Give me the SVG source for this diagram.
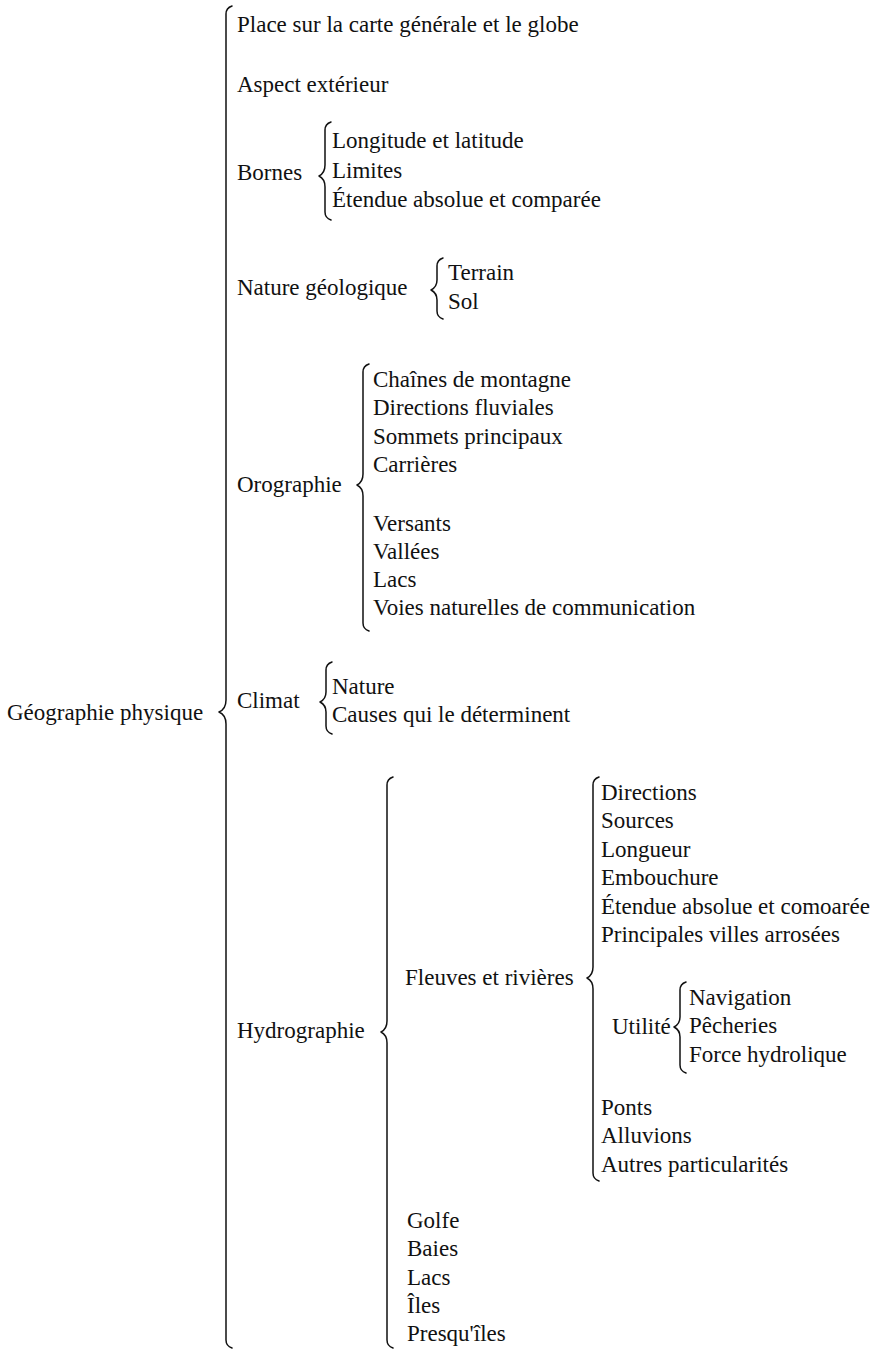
<svg xmlns="http://www.w3.org/2000/svg" width="891" height="1350" viewBox="0 0 891 1350">
<style>
text{font-size:23px;fill:#111}
.br{fill:none;stroke:#111;stroke-width:1.5;stroke-linejoin:round;stroke-linecap:round}
</style>
<rect width="891" height="1350" fill="#fff"/>
<g id="connectors">
<path class="br" d="M232,6 Q226,8 226,14 L226,700 Q226,709 219,712 Q226,715 226,724 L226,1340 Q226,1346 232,1348"/>
<path class="br" d="M331,122 Q325,124 325,130 L325,165 Q325,173 319,176 Q325,179 325,187 L325,212 Q325,218 331,220"/>
<path class="br" d="M443,258 Q437,260 437,266 L437,280 Q437,287 431,290 Q437,293 437,300 L437,311 Q437,317 443,319"/>
<path class="br" d="M369,364 Q363,366 363,372 L363,474 Q363,482 357,485 Q363,488 363,496 L363,623 Q363,629 369,631"/>
<path class="br" d="M332,662 Q326,664 326,670 L326,692 Q326,699 320,702 Q326,705 326,712 L326,726 Q326,732 332,734"/>
<path class="br" d="M393,777 Q387,779 387,785 L387,1021 Q387,1029 381,1032 Q387,1035 387,1043 L387,1340 Q387,1346 393,1348"/>
<path class="br" d="M599,777 Q593,779 593,785 L593,967 Q593,975 587,978 Q593,981 593,989 L593,1173 Q593,1179 599,1181"/>
<path class="br" d="M686,982 Q680,984 680,990 L680,1017 Q680,1024 674,1027 Q680,1030 680,1037 L680,1065 Q680,1071 686,1073"/>
</g>
<g font-family="Liberation Serif, Tinos, Times New Roman, Nimbus Roman, FreeSerif, Noto Serif, DejaVu Serif, serif">
<g id="n-root"><text x="7" y="720">Géographie physique</text></g>
<g id="n-place"><text x="237" y="32">Place sur la carte générale et le globe</text></g>
<g id="n-aspect"><text x="237" y="92">Aspect extérieur</text></g>
<g id="n-bornes"><text x="237" y="180">Bornes</text>
<text x="332" y="148">Longitude et latitude</text>
<text x="332" y="178">Limites</text>
<text x="332" y="207">Étendue absolue et comparée</text></g>
<g id="n-nature"><text x="237" y="295">Nature géologique</text>
<text x="448" y="280">Terrain</text>
<text x="448" y="309">Sol</text></g>
<g id="n-orographie"><text x="237" y="492">Orographie</text>
<text x="373" y="387">Chaînes de montagne</text>
<text x="373" y="415">Directions fluviales</text>
<text x="373" y="444">Sommets principaux</text>
<text x="373" y="472">Carrières</text>
<text x="373" y="531">Versants</text>
<text x="373" y="559">Vallées</text>
<text x="373" y="587">Lacs</text>
<text x="373" y="615">Voies naturelles de communication</text></g>
<g id="n-climat"><text x="237" y="708">Climat</text>
<text x="332" y="694">Nature</text>
<text x="332" y="722">Causes qui le déterminent</text></g>
<g id="n-hydrographie"><text x="237" y="1038">Hydrographie</text></g>
<g id="n-fleuves"><text x="405" y="985">Fleuves et rivières</text>
<text x="601" y="800">Directions</text>
<text x="601" y="828">Sources</text>
<text x="601" y="857">Longueur</text>
<text x="601" y="885">Embouchure</text>
<text x="601" y="914">Étendue absolue et comoarée</text>
<text x="601" y="942">Principales villes arrosées</text>
<text x="601" y="1115">Ponts</text>
<text x="601" y="1143">Alluvions</text>
<text x="601" y="1172">Autres particularités</text></g>
<g id="n-utilite"><text x="612" y="1034">Utilité</text>
<text x="689" y="1005">Navigation</text>
<text x="689" y="1033">Pêcheries</text>
<text x="689" y="1062">Force hydrolique</text></g>
<g id="n-autres"><text x="407" y="1228">Golfe</text>
<text x="407" y="1256">Baies</text>
<text x="407" y="1285">Lacs</text>
<text x="407" y="1313">Îles</text>
<text x="407" y="1341">Presqu'îles</text></g>
</g>
</svg>
